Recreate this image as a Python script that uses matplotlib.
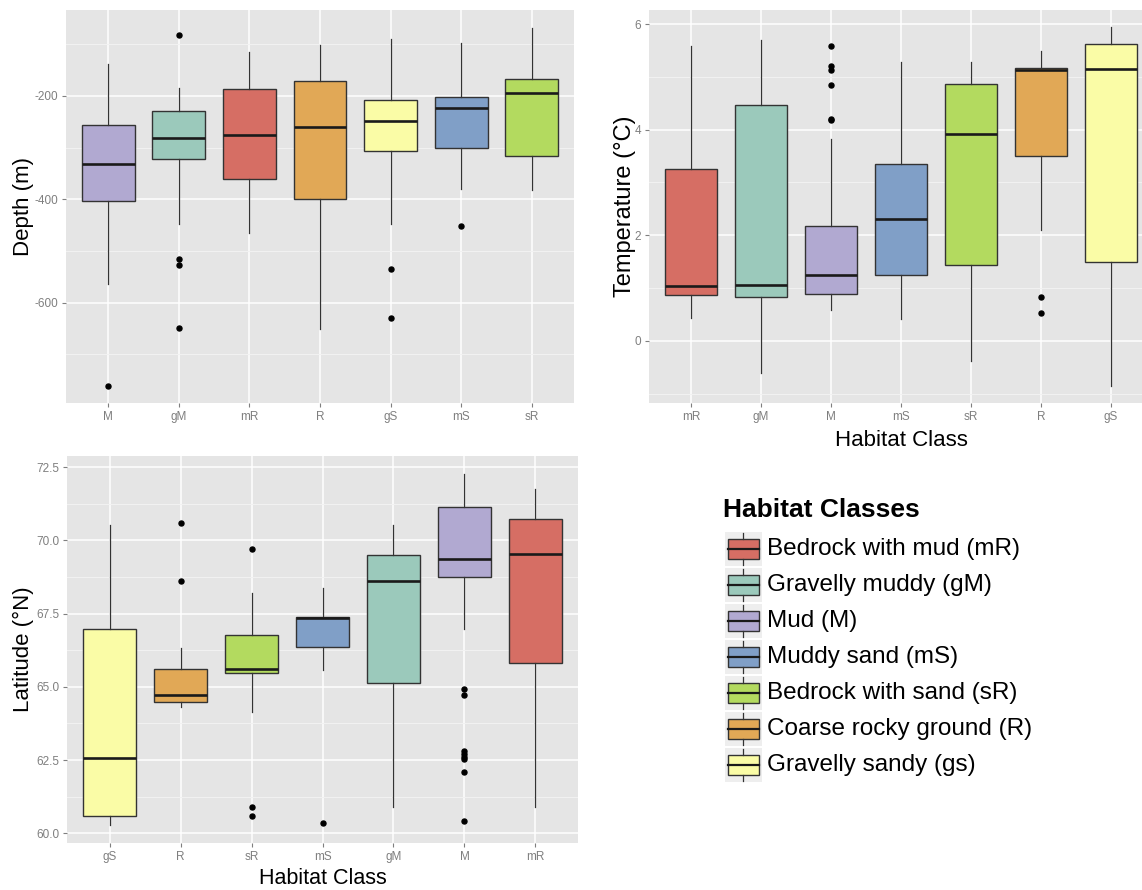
import matplotlib
matplotlib.use("Agg")
import matplotlib.pyplot as plt
from matplotlib.patches import Rectangle

plt.rcParams['font.family'] = ['Liberation Sans', 'DejaVu Sans']

# habitat colours (ggplot-like Set3 palette)
colors = {'mR': '#D66E64', 'gM': '#9BC9BB', 'M': '#B1A9D1', 'mS': '#809FC7',
          'sR': '#B3DA5F', 'R': '#E1A856', 'gS': '#FAFCA6'}

# depth panel
depth_order = ['M', 'gM', 'mR', 'R', 'gS', 'mS', 'sR']
depth_lo = [-564, -447, -466, -650, -447, -380, -382]
depth_q1 = [-403, -323, -360, -399, -306, -300, -317]
depth_med = [-331, -281, -276, -260, -248, -223, -194]
depth_q3 = [-256, -229, -186, -171, -208, -203, -167]
depth_hi = [-139, -184, -115, -102, -90, -97, -69]
depth_out = [[-761], [-82, -516, -527, -648], [], [], [-534, -629], [-451], []]

# temperature panel
temp_order = ['mR', 'gM', 'M', 'mS', 'sR', 'R', 'gS']
temp_lo = [0.44, -0.62, 0.58, 0.42, -0.39, 2.10, -0.86]
temp_q1 = [0.86, 0.83, 0.88, 1.25, 1.43, 3.51, 1.50]
temp_med = [1.04, 1.06, 1.25, 2.31, 3.91, 5.13, 5.15]
temp_q3 = [3.25, 4.46, 2.17, 3.35, 4.87, 5.17, 5.62]
temp_hi = [5.58, 5.70, 3.83, 5.28, 5.28, 5.50, 5.94]
temp_out = [[], [], [4.18, 4.20, 4.85, 5.13, 5.21, 5.59], [], [], [0.52, 0.83], []]

# latitude panel
lat_order = ['gS', 'R', 'sR', 'mS', 'gM', 'M', 'mR']
lat_lo = [60.28, 64.32, 64.15, 65.57, 60.91, 66.99, 60.89]
lat_q1 = [60.60, 64.48, 65.46, 66.35, 65.14, 68.74, 65.82]
lat_med = [62.58, 64.71, 65.62, 67.35, 68.60, 69.37, 69.52]
lat_q3 = [66.96, 65.60, 66.76, 67.39, 69.50, 71.13, 70.72]
lat_hi = [70.52, 66.31, 68.19, 68.38, 70.52, 72.26, 71.74]
lat_out = [[], [68.60, 70.58], [60.59, 60.89, 69.69], [60.34], [],
           [60.43, 62.09, 62.55, 62.59, 62.71, 62.82, 64.71, 64.94], []]

legend_codes = ['mR', 'gM', 'M', 'mS', 'sR', 'R', 'gS']
legend_labels = ['Bedrock with mud (mR)', 'Gravelly muddy (gM)', 'Mud (M)',
                 'Muddy sand (mS)', 'Bedrock with sand (sR)',
                 'Coarse rocky ground (R)', 'Gravelly sandy (gs)']

GREY50 = '#7F7F7F'
EDGE = '#333333'


def panel(ax, order, lo, q1, med, q3, hi, out, ylim, major, minor):
    stats = []
    for i in range(len(order)):
        stats.append(dict(whislo=lo[i], q1=q1[i], med=med[i], q3=q3[i],
                          whishi=hi[i], fliers=out[i]))
    bp = ax.bxp(stats, positions=range(len(order)), widths=0.75,
                patch_artist=True, showcaps=False,
                boxprops=dict(edgecolor=EDGE, linewidth=1.0),
                medianprops=dict(color='#1a1a1a', linewidth=1.9),
                whiskerprops=dict(color=EDGE, linewidth=0.9),
                flierprops=dict(marker='o', markerfacecolor='black',
                                markeredgecolor='black', markersize=3.6))
    for box, code in zip(bp['boxes'], order):
        box.set_facecolor(colors[code])
    ax.set_facecolor('#E5E5E5')
    ax.set_axisbelow(True)
    ax.set_xlim(-0.6, len(order) - 0.4)
    ax.set_ylim(*ylim)
    ax.set_xticks(range(len(order)))
    ax.set_xticklabels(order)
    ax.set_yticks(major)
    ax.set_yticks(minor, minor=True)
    ax.grid(which='major', color='white', linewidth=1.1)
    ax.grid(which='minor', axis='y', color='#F2F2F2', linewidth=0.7)
    for s in ax.spines.values():
        s.set_visible(False)
    ax.tick_params(which='major', color=GREY50, length=3, width=0.8,
                   labelcolor=GREY50, labelsize=8.5, pad=2.5)
    ax.tick_params(which='minor', length=0)


fig = plt.figure(figsize=(11.42, 8.9), dpi=100)

ax1 = fig.add_axes([66 / 1142, 1 - 403 / 890, 508 / 1142, 393 / 890])
panel(ax1, depth_order, depth_lo, depth_q1, depth_med, depth_q3, depth_hi,
      depth_out, (-794, -34), [-600, -400, -200], [-700, -500, -300, -100])
ax1.set_yticklabels(['-600', '-400', '-200'])
ax1.set_ylabel('Depth (m)', fontsize=16)
ax1.yaxis.set_label_coords(-0.063, 0.5)

ax2 = fig.add_axes([649 / 1142, 1 - 403 / 890, 504 / 1142, 393 / 890])
panel(ax2, temp_order, temp_lo, temp_q1, temp_med, temp_q3, temp_hi,
      temp_out, (-1.18, 6.27), [0, 2, 4, 6], [-1, 1, 3, 5])
ax2.set_ylabel('Temperature (°C)', fontsize=17)
ax2.yaxis.set_label_coords(-0.026, 0.5)
ax2.set_xlabel('Habitat Class', fontsize=16)
ax2.xaxis.set_label_coords(0.5, -0.068)

ax3 = fig.add_axes([67 / 1142, 1 - 843 / 890, 511 / 1142, 387 / 890])
panel(ax3, lat_order, lat_lo, lat_q1, lat_med, lat_q3, lat_hi,
      lat_out, (59.67, 72.88), [60, 62.5, 65, 67.5, 70, 72.5],
      [61.25, 63.75, 66.25, 68.75, 71.25])
ax3.set_yticklabels(['60.0', '62.5', '65.0', '67.5', '70.0', '72.5'])
ax3.set_ylabel('Latitude (°N)', fontsize=16)
ax3.yaxis.set_label_coords(-0.064, 0.5)
ax3.set_xlabel('Habitat Class', fontsize=15.5)
ax3.xaxis.set_label_coords(0.5, -0.064)

# legend drawn in pixel-like coordinates
axl = fig.add_axes([700 / 1142, 1 - 790 / 890, 442 / 1142, 310 / 890])
axl.set_xlim(700, 1142)
axl.set_ylim(790, 480)
axl.axis('off')
axl.text(723, 510, 'Habitat Classes', fontsize=19, fontweight='bold',
         ha='left', va='center')
for k, (code, lab) in enumerate(zip(legend_codes, legend_labels)):
    top = 532 + 36 * k
    cy = top + 17
    axl.add_patch(Rectangle((725, top), 37, 34, facecolor='#EEEEEE',
                            edgecolor='none'))
    axl.plot([743.5, 743.5], [top + 1, cy - 10], color=EDGE, lw=0.9)
    axl.plot([743.5, 743.5], [cy + 10, top + 33], color=EDGE, lw=0.9)
    axl.add_patch(Rectangle((728, cy - 10), 31, 20, facecolor=colors[code],
                            edgecolor=EDGE, lw=1.0))
    axl.plot([728, 759], [cy, cy], color='#1a1a1a', lw=1.6)
    axl.text(767, cy, lab, fontsize=17.5, ha='left', va='center')

fig.savefig('out.png', dpi=100)
